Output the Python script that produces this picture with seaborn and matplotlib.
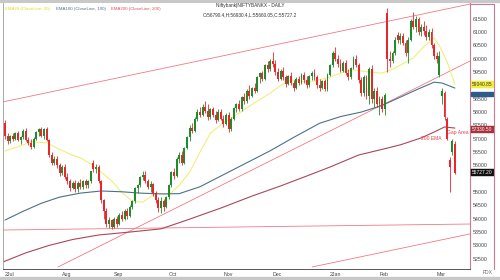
import numpy as np
import pandas as pd
import matplotlib
matplotlib.use("Agg")
import matplotlib.pyplot as plt
from matplotlib.lines import Line2D
from matplotlib.patches import Rectangle
import seaborn as sns

sns.set_theme(style="white")
plt.rcParams['font.family'] = ['Liberation Sans', 'DejaVu Sans']

# ---------------- data ----------------
opens = [57600,57100,56900,57100,57000,57200,56950,57050,57300,56950,56850,56700,57000,57250,57350,57100,57350,56950,56400,56100,
         56250,56000,55700,55950,55550,55400,55150,55350,55100,55350,55200,55400,55250,55400,56100,55850,55950,55400,54700,54300,
         53800,53950,53700,54000,53800,54150,54000,54300,54100,54450,54650,55150,55250,55550,55650,55400,55200,55300,54950,54700,
         54400,54650,54450,54800,55250,55750,55600,56250,56400,56100,56650,57050,57400,57300,57750,58000,57900,58200,58050,57800,
         58100,57900,57700,58000,57750,57550,57900,57350,57750,58150,58300,58100,58550,58400,58800,58600,58900,58800,59300,59450,
         59250,59750,59600,59900,59800,59500,59250,59550,59300,59050,59350,59100,58900,59250,59100,59400,59200,59000,59350,59450,
         59300,59000,58900,59150,58850,59400,59750,60200,60000,59800,59550,59850,59450,59300,59650,60000,59750,59200,58700,59300,
         58600,59600,58500,58800,58300,58500,58100,61700,60000,59900,60200,60900,60700,60850,60600,60200,60700,61400,61200,61500,
         61000,61200,61050,60800,61000,60500,60100,59400,58600,58700,57750,56200,56500,56790.4]
highs = [57700,57200,57150,57200,57250,57300,57100,57350,57400,57050,57000,57050,57300,57400,57450,57400,57450,57000,56500,56350,
         56350,56100,56000,56050,55700,55500,55400,55450,55400,55500,55450,55500,55450,55800,56200,56050,56000,55450,54750,54400,
         54050,54000,54050,54100,54200,54300,54350,54400,54500,54700,55200,55300,55600,55800,55800,55500,55400,55350,55050,54800,
         54800,54750,54850,55300,55800,55900,56300,56500,56550,56700,57100,57500,57600,57800,58100,58200,58300,58400,58300,58150,
         58200,58050,58100,58100,57900,57950,58000,57800,58200,58350,58450,58600,58700,58850,59000,58950,59100,59350,59500,59550,
         59800,59900,60000,60250,59950,59650,59600,59700,59400,59400,59500,59200,59300,59350,59450,59500,59350,59400,59550,59600,
         59400,59250,59200,59250,59450,59800,60300,60450,60150,60000,59900,59950,59600,59700,60100,60150,59850,59300,59400,59400,
         59700,59750,58900,58950,58600,58600,58700,61900,60300,60300,60800,61000,60950,60950,60700,60800,61500,61750,61600,61550,
         61300,61400,61250,61100,61150,60600,60250,60300,58900,58800,57800,56300,57000,56930.4]
lows = [57000,56800,56850,56900,56950,56900,56800,57000,56900,56750,56600,56650,56950,57100,57050,57000,56900,56300,56000,56000,
        55900,55600,55650,55500,55300,55050,55100,55000,55000,55100,55100,55150,55150,55350,55750,55700,55350,54600,54000,53700,
        53650,53600,53650,53700,53750,53900,53950,54000,54050,54350,54600,54950,55200,55450,55350,55100,55000,54850,54600,54250,
        54200,54300,54400,54750,55200,55500,55550,56100,56000,56050,56600,56900,57200,57250,57650,57800,57850,57950,57700,57750,
        57800,57600,57650,57700,57450,57500,57250,57300,57700,58000,58050,58050,58300,58350,58500,58550,58700,58750,59100,59150,
        59200,59500,59550,59700,59400,59150,59200,59200,58950,59000,59000,58800,58850,59000,59050,59100,58900,58950,59200,59200,
        58900,58800,58850,58800,58800,59350,59700,59900,59700,59500,59500,59400,59200,59250,59600,59700,59100,58600,58600,58500,
        58300,58350,58200,58200,57900,58000,57900,59500,59700,59850,60150,60600,60550,60500,60100,59850,60650,61100,61000,60900,
        60850,60900,60700,60700,60400,60000,59850,59300,58300,57700,56950,55000,56400,55660.05]
closes = [57100,56900,57100,57000,57200,56950,57050,57300,56950,56850,56700,57000,57250,57350,57100,57350,56950,56400,56100,56250,
          56000,55700,55950,55550,55400,55150,55350,55100,55350,55200,55400,55250,55400,55800,55850,55950,55400,54700,54300,53800,
          53950,53700,54000,53800,54150,54000,54300,54100,54450,54650,55150,55250,55550,55650,55400,55200,55300,54950,54700,54400,
          54650,54450,54800,55250,55750,55600,56250,56400,56100,56650,57050,57400,57300,57750,58000,57900,58200,58050,57800,58100,
          57900,57700,58000,57750,57550,57900,57350,57750,58150,58300,58100,58550,58400,58800,58600,58900,58800,59300,59450,59250,
          59750,59600,59900,59800,59500,59250,59550,59300,59050,59350,59100,58900,59250,59100,59400,59200,59000,59350,59450,59300,
          59000,58900,59150,58850,59400,59750,60200,60000,59800,59550,59850,59450,59300,59650,60000,59750,59200,58700,59300,58600,
          59600,58500,58800,58300,58500,58100,58650,60000,59900,60200,60700,60700,60850,60600,60200,60700,61400,61200,61500,61000,
          61200,61050,60800,61000,60500,60100,60000,60100,58800,57800,57000,55950,56900,55727.2]

month_labels = ["2Jul", "Aug", "Sep", "Oct", "Nov", "Dec", "2Jan", "Feb", "Mar"]
month_starts = [0, 22, 42, 63, 84, 103, 125, 144, 166]
price_ticks = list(range(52500, 62000, 500))
hidden_tick_labels = [59000, 55500]   # covered by value markers in the reference

# moving-average lines (candle index, price)
ema20_idx = [0, 5, 10, 16, 20, 25, 29, 33, 37, 41, 45, 49, 53, 58, 63, 67, 71, 75, 79, 84, 90, 96, 102, 106, 110,
             117, 125, 130, 134, 140, 145, 150, 157, 161, 165, 167, 170, 173]
ema20_val = [56540, 56700, 56880, 56850, 56650, 56420, 56280, 56050, 55750, 55420, 54980, 54650, 54620, 54960, 54900,
             55250, 55750, 56500, 57210, 57600, 57960, 58350, 58710, 59000, 59200, 59120, 59310, 59500, 59580, 59500,
             59460, 59650, 60030, 60450, 60780, 60500, 59880, 59040.85]
ema100_idx = [0, 7, 14, 21, 29, 37, 45, 52, 60, 67, 75, 83, 92, 102, 111, 121, 129, 137, 145, 152, 159, 165, 168, 173]
ema100_val = [53950, 54280, 54580, 54810, 54960, 55040, 55010, 54960, 54930, 54940, 55200, 55600, 56050, 56550, 57050,
              57580, 57830, 58000, 58250, 58560, 58870, 59120, 59090, 58900]
ema200_idx = [-0.8, 8, 17, 26, 36, 48, 60, 70, 83, 95, 106, 116, 125, 136, 145, 152, 160, 165, 169, 173]
ema200_val = [52376, 52720, 53000, 53220, 53390, 53500, 53620, 53950, 54400, 54850, 55230, 55600, 55940, 56390, 56600,
              56770, 57030, 57250, 57440, 57400]
ema_names = ["EMA20 (CloseLine, 20)", "EMA100 (CloseLine, 100)", "EMA200 (CloseLine, 200)"]
ema_colors = ["#f2ee7a", "#4d7188", "#a8485a"]
ema_text_colors = ["#e2dc20", "#4d7188", "#e0505a"]

# trendlines: (index_a, price_a, index_b, price_b)
trend_lines = [(-0.8, 58380, 178.8, 62050),
               (20.4, 52190, 178.8, 59914),
               (118.1, 52190, 178.8, 53430),
               (-0.8, 53576, 178.8, 53801)]

marker_levels = [59040.85, 57330.5, 55727.2]
marker_texts = ["59040.85", "57330.50", "55727.20"]
marker_colors = ["#f4ee3c", "#a8323c", "#111111"]
marker_tcolors = ["#333333", "#ffffff", "#ffffff"]
ema100_marker_level = 58690

# ---------------- figure ----------------
W, H = 500, 280
fig = plt.figure(figsize=(W / 100, H / 100), dpi=100)
fig.patch.set_facecolor("white")

x_left, x_right, y_top, y_bot = 3, 470, 3, 269
ax = fig.add_axes([x_left / W, 1 - y_bot / H, (x_right - x_left) / W, (y_bot - y_top) / H])
ax.set_facecolor("white")

n = len(closes)
idx = np.arange(n)
o = np.array(opens[:n], float); c = np.array(closes, float)
h = np.maximum.reduce([np.array(highs[:n], float), o, c])
l = np.minimum.reduce([np.array(lows[:n], float), o, c])
up = c >= o
green, red = "#1e8c2a", "#e8262c"
cols = np.where(up, green, red)

# moving averages via seaborn
ema_df = pd.concat([
    pd.DataFrame({"idx": ema20_idx, "value": ema20_val, "ema": ema_names[0]}),
    pd.DataFrame({"idx": ema100_idx, "value": ema100_val, "ema": ema_names[1]}),
    pd.DataFrame({"idx": ema200_idx, "value": ema200_val, "ema": ema_names[2]}),
])
sns.lineplot(data=ema_df, x="idx", y="value", hue="ema", palette=dict(zip(ema_names, ema_colors)),
             linewidth=0.8, legend=False, ax=ax, zorder=2, sort=False)

# trendlines
for (xa, pa, xb, pb) in trend_lines:
    ax.plot([xa, xb], [pa, pb], color="#f07a86", lw=0.6, zorder=1)

# candles
ax.vlines(idx, l, h, colors=cols, lw=0.6, zorder=3)
ax.bar(idx, np.abs(c - o) + 1, bottom=np.minimum(o, c), width=0.75, color=cols, linewidth=0, zorder=4)

ax.set_xlim(-0.77, 178.8)
ax.set_ylim(52114, 62090)
ax.set_xlabel(""); ax.set_ylabel("")

ax.yaxis.tick_right()
ax.set_yticks(price_ticks)
ax.set_yticklabels(["" if t in hidden_tick_labels else str(t) for t in price_ticks])
ax.tick_params(axis="y", labelsize=3.8, length=0, pad=2.2, colors="#444444")
ax.set_xticks(month_starts)
ax.set_xticklabels(month_labels)
ax.tick_params(axis="x", labelsize=3.8, length=1.5, width=0.4, pad=1, colors="#444444")
for lab in ax.get_xticklabels():
    lab.set_horizontalalignment("left")

ax.spines["top"].set_visible(False)
ax.spines["left"].set_color("#9a9a9a"); ax.spines["left"].set_linewidth(0.6)
ax.spines["bottom"].set_color("#555555"); ax.spines["bottom"].set_linewidth(0.7)
ax.spines["right"].set_color("#c87c96"); ax.spines["right"].set_linewidth(0.8)

# right axis markers
ax.add_patch(Rectangle((1.002, ema100_marker_level - 75), 0.048, 150,
                       transform=ax.get_yaxis_transform(), color="#2e5c8a", clip_on=False, zorder=9))
for lvl, txt, fc, tc in zip(marker_levels, marker_texts, marker_colors, marker_tcolors):
    ax.annotate(txt, xy=(1.0, lvl), xycoords=("axes fraction", "data"),
                xytext=(1.6, 0), textcoords="offset points", fontsize=3.5, color=tc,
                va="center", ha="left", annotation_clip=False,
                bbox=dict(boxstyle="square,pad=0.2", fc=fc, ec=fc, lw=0.3), zorder=10)

ax.text(163.8, 57020, "200 EMA", fontsize=3.6, color="#e8404a", ha="center", va="center")
ax.text(170.0, 57245, "Gap Area", fontsize=3.6, color="#e8404a", ha="left", va="center", clip_on=False)

# header texts
for name, col, xs in zip(ema_names, ema_text_colors, [5, 56, 111]):
    fig.text(xs / W, 1 - 9 / H, name, fontsize=3.2, color=col, ha="left", va="center")
fig.text(250 / W, 1 - 6 / H, "Niftybank|NIFTYBANKX - DAILY", fontsize=3.4, color="#333333", ha="center", va="center")
fig.text(250 / W, 1 - 15 / H, "O:56790.4,H:56930.4,L:55660.05,C:55727.2", fontsize=3.4, color="#333333",
         ha="center", va="center")
fig.text(488 / W, 1 - 273 / H, "FDX", fontsize=3.6, color="#666666", ha="center", va="center")

# frame
fig.add_artist(Rectangle((0, 1 - 2 / H), 1, 2 / H, transform=fig.transFigure, color="#c8c8c8", zorder=0))
fig.add_artist(Rectangle((0, 0), 1, 3 / H, transform=fig.transFigure, color="#c8c8c8", zorder=0))
fig.add_artist(Line2D([3 / W, 250 / W], [1 - 15.5 / H, 1 - 15.5 / H], transform=fig.transFigure,
                      color="#b0b0b0", lw=0.5, zorder=0))
fig.add_artist(Line2D([494 / W, 494 / W], [1 - 269 / H, 1 - 4 / H], transform=fig.transFigure,
                      color="#c87c96", lw=0.8))
fig.add_artist(Line2D([470 / W, 494 / W], [1 - 4 / H, 1 - 4 / H], transform=fig.transFigure,
                      color="#c87c96", lw=0.8))

fig.savefig("out.png", dpi=100, facecolor=fig.get_facecolor())
